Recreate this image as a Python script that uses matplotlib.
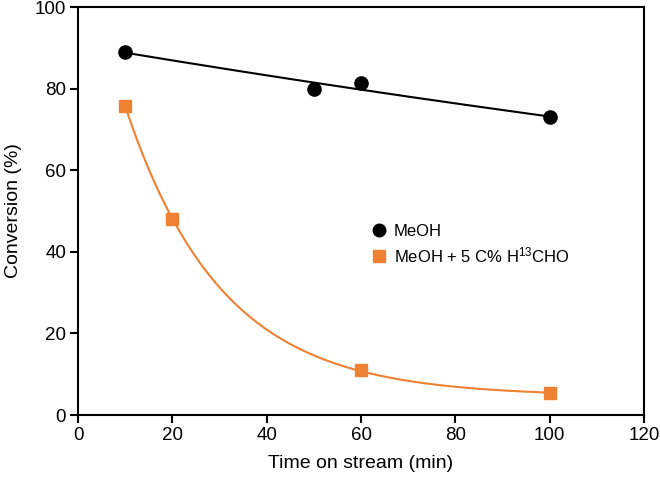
"""Conversion vs time on stream, MeOH with and without H13CHO co-feed."""

import matplotlib
matplotlib.use("Agg")
import matplotlib.pyplot as plt
import numpy as np

plt.rcParams["font.family"] = ["Liberation Sans", "DejaVu Sans"]
plt.rcParams["mathtext.fontset"] = "custom"
plt.rcParams["mathtext.rm"] = "Liberation Sans"
plt.rcParams["mathtext.default"] = "regular"

time_meoh = [10, 50, 60, 100]
conv_meoh = [89.0, 79.9, 81.3, 73.0]

time_cho = [10, 20, 60, 100]
conv_cho = [75.8, 48.0, 11.0, 5.3]

label_meoh = "MeOH"
label_cho = r"MeOH + 5 C% H$^{13}$CHO"

BLACK = "#000000"
ORANGE = "#EE8133"


def exp_trend(x, y):
    # plain exponential trend line, y = a * exp(b x)
    b, ln_a = np.polyfit(x, np.log(y), 1)
    return lambda t: np.exp(ln_a) * np.exp(b * t)


def exp_offset_fit(x, y):
    # y = a * exp(-k x) + c, scan k and solve a, c by least squares
    x = np.asarray(x, float)
    y = np.asarray(y, float)
    best = None
    for k in np.linspace(0.001, 0.3, 3000):
        A = np.column_stack([np.exp(-k * x), np.ones_like(x)])
        coef, *_ = np.linalg.lstsq(A, y, rcond=None)
        err = np.sum((A @ coef - y) ** 2)
        if best is None or err < best[0]:
            best = (err, k, coef)
    _, k, (a, c) = best
    return lambda t: a * np.exp(-k * t) + c


fig = plt.figure(figsize=(6.6, 4.79), dpi=100)
ax = fig.add_axes([78 / 660, 1 - 415 / 479, 566 / 660, 408 / 479])

t = np.linspace(10, 100, 300)
ax.plot(t, exp_trend(time_meoh, conv_meoh)(t), color=BLACK, lw=1.5, zorder=2)
ax.plot(t, exp_offset_fit(time_cho, conv_cho)(t), color=ORANGE, lw=1.5, zorder=2)

ax.plot(time_meoh, conv_meoh, "o", color=BLACK, ms=9.5, ls="none",
        label=label_meoh, zorder=3)
ax.plot(time_cho, conv_cho, "s", color=ORANGE, ms=9, ls="none",
        label=label_cho, zorder=3)

ax.set_xlim(0, 120)
ax.set_ylim(0, 100)
ax.set_xticks(range(0, 121, 20))
ax.set_yticks(range(0, 101, 20))
ax.tick_params(direction="out", length=5.5, width=1.5, labelsize=13.5, pad=3,
               top=False, right=False)
for spine in ax.spines.values():
    spine.set_linewidth(1.5)

ax.set_xlabel("Time on stream (min)", fontsize=14, labelpad=8)
ax.set_ylabel("Conversion (%)", fontsize=14, labelpad=9)

ax.legend(loc="upper left", bbox_to_anchor=(0.487, 0.506), frameon=False,
          fontsize=12, handletextpad=0.3, labelspacing=0.4, handlelength=1.2,
          markerscale=0.95)

fig.savefig("out.png", dpi=100)
